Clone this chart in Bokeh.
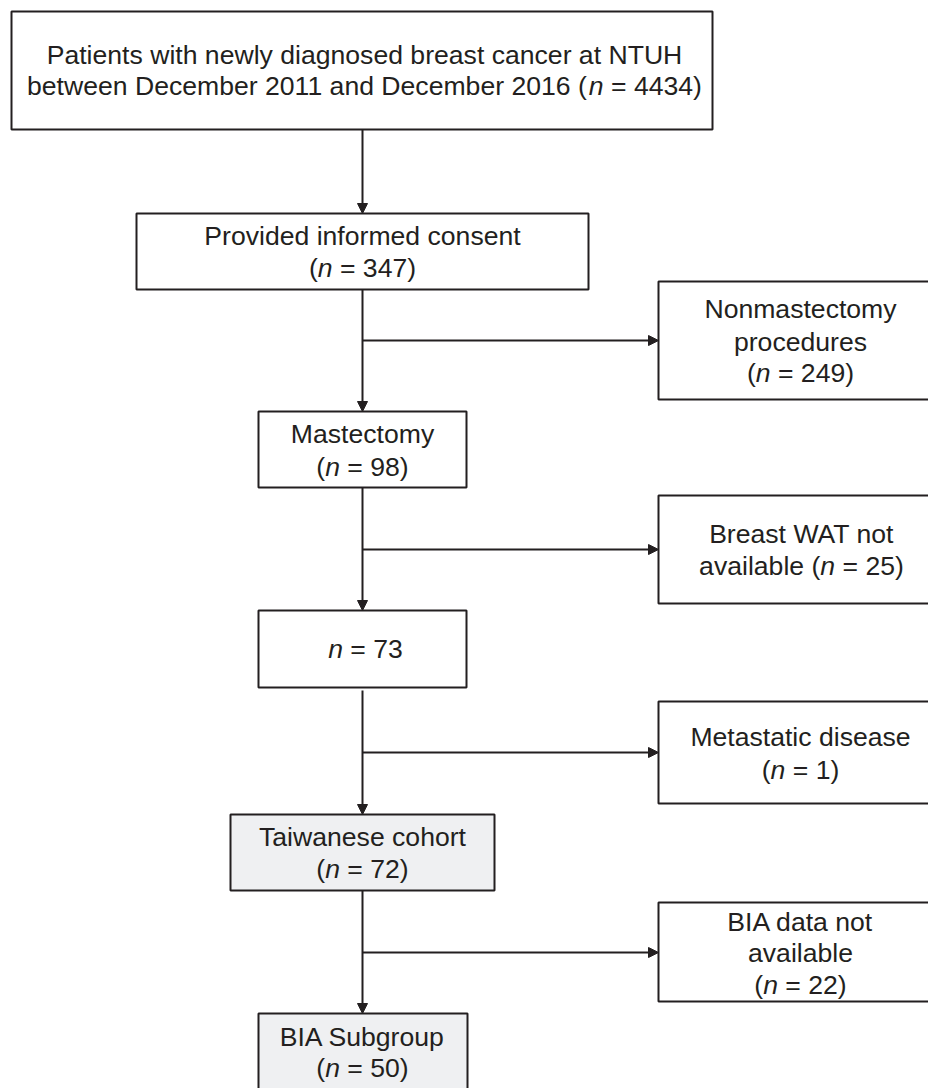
from bokeh.plotting import figure
from bokeh.models import Range1d, Arrow, NormalHead, ColumnDataSource
from bokeh.core.properties import value
from bokeh.embed import file_html
from bokeh.resources import INLINE

# ---------------- data ----------------
box_titles = [
    ["Patients with newly diagnosed breast cancer at NTUH",
     "between December 2011 and December 2016"],
    ["Provided informed consent"],
    ["Nonmastectomy", "procedures"],
    ["Mastectomy"],
    ["Breast WAT not", "available"],
    [],
    ["Metastatic disease"],
    ["Taiwanese cohort"],
    ["BIA data not", "available"],
    ["BIA Subgroup"],
]
counts = [4434, 347, 249, 98, 25, 73, 1, 72, 22, 50]
# how the count is written: "inline" -> appended to last title line,
# "newline" -> own line in parentheses, "bare" -> "n = x"
count_style = ["inline", "newline", "newline", "newline", "inline",
               "bare", "newline", "newline", "newline", "newline"]
highlighted = [False, False, False, False, False, False, False, True, False, True]

# ---------------- layout (pixels) ----------------
# left, right, top, bottom, centre x, line centres y
geom = [
    (11, 712, 11, 129, 364, [55, 86]),
    (136, 588, 213, 289, 362, [236, 268]),
    (658, 940, 281, 399, 800, [309, 342, 373]),
    (258, 466, 411, 487, 362, [434, 467]),
    (658, 940, 495, 603, 801, [534, 566]),
    (258, 466, 610, 687, 365, [649]),
    (658, 940, 701, 803, 800, [737, 770]),
    (230, 494, 814, 890, 362, [837, 869]),
    (658, 940, 902, 1001, 800, [922, 953, 985]),
    (258, 467, 1013, 1100, 362, [1037, 1068]),
]
main_x = 362
main_arrows = [(129, 213), (289, 411), (487, 610), (690, 814), (890, 1013)]
branch_y = [340, 549, 752, 952]
branch_end = 658

INK = "#231f20"
FILL_HI = "#eff0f2"
FS = 26.6
FONT = "Liberation Sans"
BASE_DY = -1   # baseline offset from visual line centre (empirical)

# Arial / Liberation Sans advance widths (1/1000 em)
W = {' ': 278, '(': 333, ')': 333, '=': 584, 'a': 556, 'b': 556, 'c': 500,
     'd': 556, 'e': 556, 'i': 222, 'l': 222, 'm': 833, 'n': 556, 'r': 333,
     't': 278, 'v': 500, 'w': 722, 'D': 722}
for d in "0123456789":
    W[d] = 556


def tw(s):
    return sum(W.get(ch, 556) for ch in s) * FS / 1000.0


def build_lines(i):
    titles = list(box_titles[i])
    c = counts[i]
    st = count_style[i]
    lines = [[(t, False)] for t in titles]
    if st == "inline":
        last = titles[-1]
        lines[-1] = [(last + " (", False), ("n", True), (" = %d)" % c, False)]
    elif st == "newline":
        lines.append([("(", False), ("n", True), (" = %d)" % c, False)])
    else:
        lines.append([("n", True), (" = %d" % c, False)])
    return lines


p = figure(width=928, height=1088, x_range=Range1d(0, 928), y_range=Range1d(1088, 0),
           output_backend="svg", toolbar_location=None, x_axis_type=None, y_axis_type=None,
           min_border=0, outline_line_color=None, background_fill_color="white")
p.grid.visible = False

# boxes
qs = ColumnDataSource(dict(
    left=[g[0] for g in geom], right=[g[1] for g in geom],
    top=[g[2] for g in geom], bottom=[g[3] for g in geom],
    fill=[FILL_HI if h else "white" for h in highlighted]))
p.quad(left="left", right="right", top="top", bottom="bottom", source=qs,
       fill_color="fill", line_color=INK, line_width=2)

# connectors
for (y0, y1) in main_arrows:
    p.add_layout(Arrow(x_start=main_x, y_start=y0, x_end=main_x, y_end=y1,
                       line_color=INK, line_width=2,
                       end=NormalHead(size=10, fill_color=INK, line_color=INK, line_width=1)))
for y in branch_y:
    p.add_layout(Arrow(x_start=main_x, y_start=y, x_end=branch_end, y_end=y,
                       line_color=INK, line_width=2,
                       end=NormalHead(size=10, fill_color=INK, line_color=INK, line_width=1)))

# texts
nx, ny, nt, na = [], [], [], []
ix, iy, it = [], [], []
for i, g in enumerate(geom):
    cx = g[4]
    lines = build_lines(i)
    for segs, yc in zip(lines, g[5]):
        yb = yc + BASE_DY
        if len(segs) == 1:
            nx.append(cx); ny.append(yb); nt.append(segs[0][0]); na.append("center")
        else:
            total = sum(tw(s) for s, _ in segs)
            cur = cx - total / 2.0
            for s, ital in segs:
                stripped = s.lstrip(" ")
                cur += tw(s[:len(s) - len(stripped)])
                if ital:
                    ix.append(cur); iy.append(yb); it.append(stripped)
                else:
                    nx.append(cur); ny.append(yb); nt.append(stripped); na.append("left")
                cur += tw(stripped)

p.text(x="x", y="y", text="text", text_align="align",
       source=ColumnDataSource(dict(x=nx, y=ny, text=nt, align=na)),
       text_font=value(FONT), text_font_size="%.1fpx" % FS, text_baseline="alphabetic", text_color=INK)
p.text(x="x", y="y", text="text", source=ColumnDataSource(dict(x=ix, y=iy, text=it)),
       text_font=value(FONT), text_font_size="%.1fpx" % FS, text_font_style="italic",
       text_align="left", text_baseline="alphabetic", text_color=INK)

open("out.html", "w").write(file_html(p, INLINE))
